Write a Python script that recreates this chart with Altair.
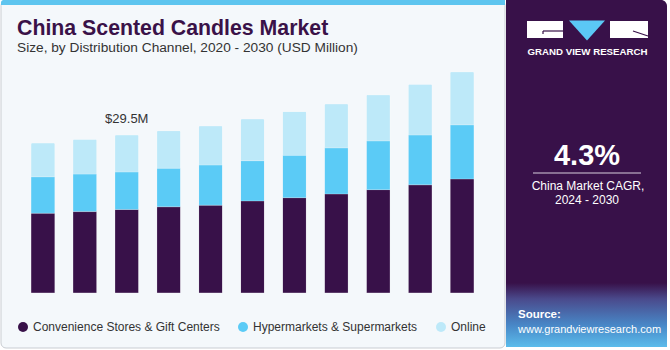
import altair as alt
import pandas as pd

years = ["2020", "2021", "2022", "2023", "2024", "2025", "2026", "2027", "2028", "2029", "2030"]
channels = ["Convenience Stores & Gift Centers", "Hypermarkets & Supermarkets", "Online"]
conv = [14.9, 15.2, 15.6, 16.1, 16.4, 17.2, 17.8, 18.5, 19.3, 20.2, 21.3]
hyper = [6.8, 7.0, 7.0, 7.2, 7.5, 7.5, 7.9, 8.6, 9.1, 9.3, 10.1]
online = [6.3, 6.5, 6.9, 7.0, 7.3, 7.8, 8.2, 8.2, 8.6, 9.5, 9.9]
colors = ["#381149", "#5BCBF6", "#BDE9F9"]
annot_year = "2022"
annot_label = "$29.5M"

rows = []
for i, y in enumerate(years):
    for k, (ch, vals) in enumerate(zip(channels, [conv, hyper, online])):
        rows.append({"year": y, "channel": ch, "value": vals[i], "ord": k})
df = pd.DataFrame(rows)
tot = pd.DataFrame({"year": years, "total": [a + b + c for a, b, c in zip(conv, hyper, online)]})
tot = tot[tot["year"] == annot_year].assign(label=annot_label)

W, H = 461, 241
OX, OY = 22, 52  # plot origin in page pixels
one = pd.DataFrame({"d": [0]})

def px(v):
    return alt.value(v - OX)

def py(v):
    return alt.value(v - OY)

base = alt.Chart(one)

left_panel = base.mark_rect(fill="#F4F8FB", stroke="#C9CDD2", strokeWidth=1, cornerRadius=5).encode(
    x=px(1), x2=px(505), y=py(0.5), y2=py(348))
top_strip = base.mark_rect(fill="#5EC5EF", cornerRadiusTopLeft=4).encode(
    x=px(1), x2=px(505), y=py(0), y2=py(5))
dark_panel = base.mark_rect(fill="#381149", cornerRadiusTopRight=6).encode(
    x=px(506), x2=px(667), y=py(0), y2=py(300))
grad_panel = base.mark_rect(
    fill=alt.LinearGradient(gradient="linear", x1=0, x2=0, y1=0, y2=1,
                            stops=[alt.GradientStop(offset=0, color="#381149"),
                                   alt.GradientStop(offset=0.25, color="#4A4A8C"),
                                   alt.GradientStop(offset=0.65, color="#4886C6"),
                                   alt.GradientStop(offset=1, color="#5BBCEB")])).encode(
    x=px(506), x2=px(667), y=py(283), y2=py(347))

logo_l = base.mark_rect(fill="white").encode(x=px(527), x2=px(563), y=py(21), y2=py(38))
logo_r = base.mark_rect(fill="white").encode(x=px(610), x2=px(648), y=py(21), y2=py(38))
logo_l_line = base.mark_rule(color="#381149", strokeWidth=1.2).encode(x=px(543), x2=px(563), y=py(31), y2=py(31))
logo_l_tick = base.mark_rule(color="#381149", strokeWidth=1.2).encode(x=px(543), x2=px(543), y=py(31), y2=py(34))
logo_r_line = base.mark_rule(color="#381149", strokeWidth=1.2).encode(x=px(633), x2=px(648), y=py(31), y2=py(36))
logo_tri = base.mark_point(shape="M -1 -0.55 L 1 -0.55 L 0 0.55 Z", filled=True, fill="#5BC8F5",
                           opacity=1, size=1300, strokeWidth=0).encode(x=px(587), y=py(30.5))
logo_txt = base.mark_text(text="GRAND VIEW RESEARCH", color="white", font="Liberation Sans",
                          fontWeight="bold", fontSize=9.7, align="center", baseline="alphabetic").encode(
    x=px(587.5), y=py(55))

cagr = base.mark_text(text="4.3%", color="white", font="Liberation Sans", fontWeight="bold",
                      fontSize=29, align="center", baseline="alphabetic").encode(x=px(587), y=py(165))
cagr_line = base.mark_rule(color="#D8D0DE", strokeWidth=1).encode(x=px(533), x2=px(641), y=py(173), y2=py(173))
cagr_t1 = base.mark_text(text="China Market CAGR,", color="white", font="Liberation Sans",
                         fontSize=12, align="center", baseline="alphabetic").encode(x=px(588), y=py(190))
cagr_t2 = base.mark_text(text="2024 - 2030", color="white", font="Liberation Sans",
                         fontSize=12, align="center", baseline="alphabetic").encode(x=px(587), y=py(204))
src1 = base.mark_text(text="Source:", color="white", font="Liberation Sans", fontWeight="bold",
                      fontSize=11.5, align="left", baseline="alphabetic").encode(x=px(518), y=py(318))
src2 = base.mark_text(text="www.grandviewresearch.com", color="white", font="Liberation Sans",
                      fontSize=11, align="left", baseline="alphabetic").encode(x=px(518), y=py(333))

title = base.mark_text(text="China Scented Candles Market", color="#3A1248", font="Liberation Sans",
                       fontWeight="bold", fontSize=21.3, align="left", baseline="alphabetic").encode(x=px(17), y=py(35))
subtitle = base.mark_text(text="Size, by Distribution Channel, 2020 - 2030 (USD Million)", color="#333333",
                          font="Liberation Sans", fontSize=13.7, align="left", baseline="alphabetic").encode(
    x=px(17), y=py(52))

bars = alt.Chart(df).mark_bar(cornerRadiusTopLeft=1.5, cornerRadiusTopRight=1.5,
                              stroke="#FFFFFF", strokeOpacity=0.25, strokeWidth=0.8).encode(
    x=alt.X("year:N", sort=years,
            scale=alt.Scale(paddingInner=0.43, paddingOuter=0.215),
            axis=alt.Axis(title=None, domain=False, ticks=False, labelAngle=0, labelFontSize=13,
                          labelColor="#333333", labelFont="Liberation Sans", labelPadding=5)),
    y=alt.Y("value:Q", stack="zero", scale=alt.Scale(domain=[0, 45], nice=False),
            axis=None),
    color=alt.Color("channel:N", scale=alt.Scale(domain=channels, range=colors),
                    legend=alt.Legend(title=None, orient="none", legendX=-5, legendY=269,
                                      direction="horizontal", symbolType="circle", symbolSize=100,
                                      symbolStrokeWidth=0, labelFontSize=12, labelFont="Liberation Sans",
                                      labelColor="#333333", columnPadding=17, labelOffset=4, padding=0,
                                      labelLimit=0)),
    order=alt.Order("ord:Q", sort="ascending"),
)

annot = alt.Chart(tot).mark_text(font="Liberation Sans", fontSize=13, color="#333333",
                                 baseline="alphabetic", dy=-12).encode(
    x=alt.X("year:N", sort=years), y=alt.Y("total:Q"), text="label:N")

chart = alt.layer(
    left_panel, top_strip, dark_panel, grad_panel,
    logo_l, logo_r, logo_l_line, logo_l_tick, logo_r_line, logo_tri, logo_txt,
    cagr, cagr_line, cagr_t1, cagr_t2, src1, src2, title, subtitle,
    bars, annot
).properties(
    width=W, height=H,
    padding={"left": OX, "top": OY, "right": 670 - OX - W, "bottom": 350 - OY - H},
    autosize=alt.AutoSizeParams(type="none"),
    background="white",
).configure_view(stroke=None)

chart.save("out.html", embed_options={"renderer": "svg", "actions": False})
